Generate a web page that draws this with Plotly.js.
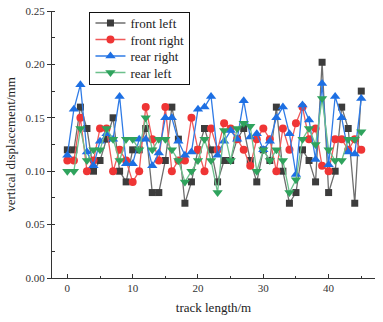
<!DOCTYPE html>
<html>
<head>
<meta charset="utf-8">
<script src="https://cdn.plot.ly/plotly-3.0.1.min.js"></script>
<style>
  html, body { margin: 0; padding: 0; background: #fff; }
  #chart { width: 383px; height: 322px; }
</style>
</head>
<body>
<div id="chart"></div>
<script>
// Track position along the line (m)
const trackLength = [0,1,2,3,4,5,6,7,8,9,10,11,12,13,14,15,16,17,18,19,20,21,22,23,24,25,26,27,28,29,30,31,32,33,34,35,36,37,38,39,40,41,42,43,44,45];

// Vertical displacement per wheel position (mm)
const frontLeft = [0.12,0.12,0.16,0.14,0.10,0.11,0.13,0.15,0.10,0.09,0.12,0.12,0.14,0.08,0.08,0.11,0.16,0.13,0.07,0.09,0.12,0.14,0.12,0.09,0.11,0.11,0.13,0.14,0.11,0.09,0.12,0.11,0.16,0.10,0.07,0.08,0.12,0.11,0.09,0.202,0.08,0.10,0.16,0.14,0.07,0.175];
const frontRight = [0.11,0.11,0.15,0.10,0.11,0.14,0.14,0.10,0.12,0.11,0.09,0.10,0.16,0.13,0.11,0.16,0.10,0.11,0.11,0.15,0.12,0.10,0.14,0.12,0.145,0.14,0.13,0.12,0.105,0.13,0.14,0.13,0.10,0.14,0.12,0.145,0.16,0.13,0.14,0.105,0.10,0.13,0.13,0.12,0.13,0.12];
const rearRight = [0.115,0.158,0.181,0.118,0.105,0.128,0.135,0.13,0.17,0.107,0.107,0.13,0.13,0.105,0.117,0.15,0.15,0.128,0.115,0.118,0.158,0.16,0.17,0.115,0.128,0.138,0.13,0.166,0.132,0.135,0.12,0.128,0.15,0.16,0.135,0.097,0.162,0.148,0.111,0.182,0.106,0.17,0.15,0.118,0.116,0.168];
const rearLeft = [0.10,0.10,0.14,0.11,0.12,0.12,0.14,0.13,0.11,0.13,0.13,0.12,0.15,0.12,0.13,0.13,0.12,0.11,0.09,0.10,0.11,0.13,0.11,0.08,0.138,0.11,0.14,0.145,0.142,0.10,0.12,0.11,0.12,0.11,0.08,0.092,0.13,0.14,0.125,0.168,0.12,0.11,0.11,0.13,0.13,0.137];

const serif = 'Liberation Serif, Times New Roman, serif';

function series(name, y, lineColor, markerColor, symbol, size) {
  return {
    x: trackLength, y: y, name: name, type: 'scatter', mode: 'lines+markers',
    line: { color: lineColor, width: 1.3 },
    marker: { color: markerColor, symbol: symbol, size: size, line: { width: 0 } }
  };
}

const data = [
  series('front left', frontLeft, '#6e6e6e', '#3c3c3c', 'square', 7),
  series('front right', frontRight, '#f05a5a', '#ef3535', 'circle', 8),
  series('rear right', rearRight, '#2f7be6', '#1d6fe3', 'triangle-up', 9),
  series('rear left', rearLeft, '#6cc08c', '#2fa35d', 'triangle-down', 9)
];

const axisCommon = {
  showline: true, linecolor: '#333', linewidth: 1,
  showgrid: false, zeroline: false, mirror: false,
  tickfont: { family: serif, size: 11, color: '#333' },
  ticklen: 4, tickcolor: '#333', tickwidth: 1
};

const layout = {
  width: 383, height: 322,
  margin: { l: 52, r: 8, t: 11, b: 44 },
  paper_bgcolor: '#fff', plot_bgcolor: '#fff',
  showlegend: true,
  legend: {
    x: 0.116, y: 0.996, xanchor: 'left', yanchor: 'top',
    bgcolor: '#fff', bordercolor: '#111', borderwidth: 1,
    font: { family: serif, size: 13, color: '#222' },
    tracegroupgap: 0, itemwidth: 30
  },
  xaxis: Object.assign({}, axisCommon, {
    range: [-2.35, 47.1],
    tickvals: [0, 10, 20, 30, 40],
    ticks: 'inside',
    minor: { tickvals: [5, 15, 25, 35, 45], ticks: 'inside', ticklen: 2, tickcolor: '#333' },
    title: { text: 'track length/m', font: { family: serif, size: 13, color: '#222' }, standoff: 9 }
  }),
  yaxis: Object.assign({}, axisCommon, {
    range: [0, 0.25],
    tickvals: [0, 0.05, 0.10, 0.15, 0.20, 0.25],
    tickformat: '.2f',
    ticks: 'outside',
    minor: { dtick: 0.025, ticks: 'inside', ticklen: 3, tickcolor: '#333' },
    title: { text: 'vertical displacement/mm', font: { family: serif, size: 13, color: '#222' }, standoff: 6 }
  })
};

// Tighten the legend rows a little after drawing
const ROW = 16.5;
const LIFT = 5;
Plotly.newPlot('chart', data, layout, { displayModeBar: false, staticPlot: true }).then(function (gd) {
  const items = gd.querySelectorAll('.legend .traces');
  if (items.length < 2) return;
  const parse = function (el) {
    const m = /translate\(\s*([-\d.]+)[ ,]+([-\d.]+)\s*\)/.exec(el.getAttribute('transform') || '');
    return m ? [parseFloat(m[1]), parseFloat(m[2])] : null;
  };
  const first = parse(items[0]);
  const second = parse(items[1]);
  if (!first || !second) return;
  const oldRow = second[1] - first[1];
  items.forEach(function (el, i) {
    const p = parse(el);
    if (p) el.setAttribute('transform', 'translate(' + p[0] + ',' + (first[1] - LIFT + i * ROW) + ')');
  });
  const shrink = (oldRow - ROW) * items.length + LIFT;
  const bg = gd.querySelector('.legend rect.bg');
  if (bg) bg.setAttribute('height', parseFloat(bg.getAttribute('height')) - shrink);
});
</script>
</body>
</html>
